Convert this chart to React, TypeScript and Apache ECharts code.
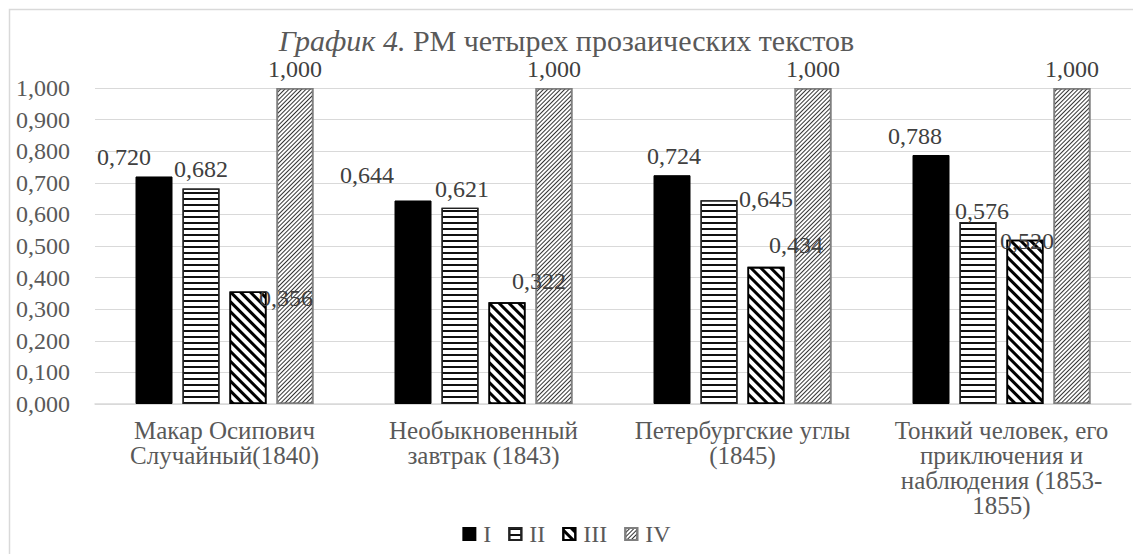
import React, { useEffect, useRef } from "react";
import * as echarts from "echarts";

const categories = [
  "Макар Осипович\nСлучайный(1840)",
  "Необыкновенный\nзавтрак (1843)",
  "Петербургские углы\n(1845)",
  "Тонкий человек, его\nприключения и\nнаблюдения (1853-\n1855)",
];
const seriesNames = ["I", "II", "III", "IV"];
const valuesI = [0.72, 0.644, 0.724, 0.788];
const valuesII = [0.682, 0.621, 0.645, 0.576];
const valuesIII = [0.356, 0.322, 0.434, 0.52];
const valuesIV = [1.0, 1.0, 1.0, 1.0];
const yTicks = { min: 0, max: 1, interval: 0.1 };
const titleMain = "График 4.";
const titleRest = " РМ четырех прозаических текстов";

const FONT = "Liberation Serif, Times New Roman, serif";
const fmt = (v: number) => v.toFixed(3).replace(".", ",");

export default function App() {
  const ref = useRef<HTMLDivElement>(null);
  useEffect(() => {
    if (!ref.current) return;
    const chart = echarts.init(ref.current, undefined, { renderer: "svg" });
    const labelCommon = {
      show: true,
      position: "top" as const,
      distance: 7,
      fontFamily: FONT,
      fontSize: 24,
      color: "#404040",
      formatter: (p: any) => fmt(p.value),
    };
    const styles = [
      { color: "#000", borderColor: "#000", borderWidth: 1 },
      {
        color: "#fff",
        borderColor: "#222",
        borderWidth: 1.3,
        decal: {
          symbol: "rect",
          symbolSize: 1,
          color: "#111",
          backgroundColor: "#fff",
          dashArrayX: [1, 0],
          dashArrayY: [1.3, 3.2],
          rotation: 0,
        },
      },
      {
        color: "#fff",
        borderColor: "#000",
        borderWidth: 1.6,
        decal: {
          symbol: "rect",
          symbolSize: 1,
          color: "#000",
          backgroundColor: "#fff",
          dashArrayX: [1, 0],
          dashArrayY: [3, 4],
          rotation: Math.PI / 4,
        },
      },
      {
        color: "#fff",
        borderColor: "#7f7f7f",
        borderWidth: 1.6,
        decal: {
          symbol: "rect",
          symbolSize: 1,
          color: "#333",
          backgroundColor: "#fff",
          dashArrayX: [1, 0],
          dashArrayY: [1, 1.8],
          rotation: -Math.PI / 4,
        },
      },
    ];
    // Excel-like manual label nudges (px), per series and category
    const nudges: number[][][] = [
      [[-30, 0], [-46, -6], [2, 0], [-16, 0]],
      [[0, 0], [2, 0], [47, 18], [4, 8]],
      [[38, 25], [32, -2], [30, -3], [2, 20]],
      [[0, 0], [0, 0], [0, 0], [0, 0]],
    ];
    const data = [valuesI, valuesII, valuesIII, valuesIV];
    chart.setOption({
      animation: false,
      aria: { enabled: false },
      textStyle: { fontFamily: FONT },
      title: {
        text: `{i|${titleMain}}{n|${titleRest}}`,
        left: "center",
        top: 20,
        textStyle: {
          fontWeight: "normal",
          fontFamily: FONT,
          rich: {
            i: { fontFamily: FONT, fontSize: 30, fontStyle: "italic", fontWeight: "normal", color: "#595959" },
            n: { fontFamily: FONT, fontSize: 30, fontWeight: "normal", color: "#595959" },
          },
        },
      },
      graphic: [
        {
          type: "rect",
          shape: { x: 9.5, y: 9.5, width: 1140, height: 560 },
          style: { fill: "none", stroke: "#d9d9d9", lineWidth: 1.5 },
          silent: true,
        },
      ],
      legend: {
        left: "center",
        top: 517,
        icon: "rect",
        itemWidth: 12,
        itemHeight: 12,
        itemGap: 17,
        data: seriesNames,
        textStyle: { fontFamily: FONT, fontSize: 24, color: "#595959", padding: [0, 0, 0, 3] },
      },
      grid: { left: 95, right: 2, top: 88, bottom: 150 },
      xAxis: {
        type: "category",
        data: categories,
        axisLine: { show: true, lineStyle: { color: "#d9d9d9", width: 1.5 } },
        axisTick: { show: false },
        axisLabel: {
          interval: 0,
          margin: 14,
          fontFamily: FONT,
          fontSize: 25,
          lineHeight: 25,
          color: "#595959",
        },
      },
      yAxis: {
        type: "value",
        min: yTicks.min,
        max: yTicks.max,
        interval: yTicks.interval,
        axisLine: { show: false },
        axisTick: { show: false },
        splitLine: { lineStyle: { color: "#d9d9d9", width: 1.2 } },
        axisLabel: {
          margin: 25,
          fontFamily: FONT,
          fontSize: 24,
          color: "#595959",
          formatter: (v: number) => fmt(v),
        },
      },
      series: seriesNames.map((name, i) => ({
        name,
        type: "bar",
        data: data[i].map((v, j) => ({
          value: v,
          label: { offset: nudges[i][j] },
        })),
        barWidth: 37,
        barGap: "27%",
        itemStyle: styles[i],
        label: labelCommon,
      })),
    });
    return () => chart.dispose();
  }, []);
  return (
    <div
      ref={ref}
      style={{ position: "absolute", left: 0, top: 0, width: 1133, height: 554, background: "#fff" }}
    />
  );
}
